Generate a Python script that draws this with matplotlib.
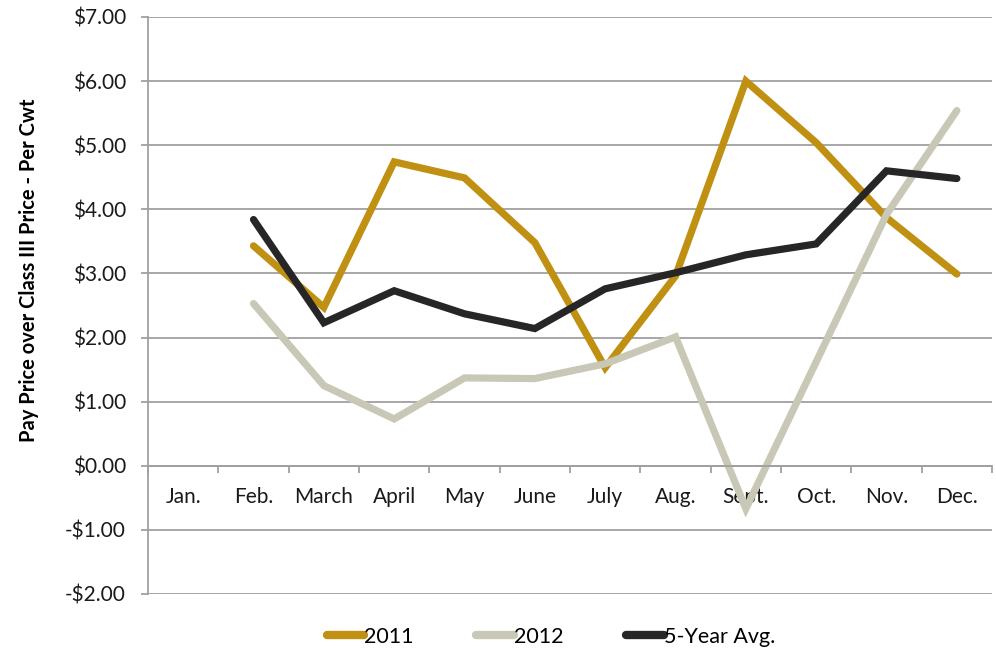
import matplotlib
matplotlib.use('Agg')
import matplotlib.pyplot as plt
from matplotlib.ticker import FuncFormatter, FixedLocator

plt.rcParams['font.family'] = ['Lato', 'DejaVu Sans']

months = ['Jan.', 'Feb.', 'March', 'April', 'May', 'June', 'July',
          'Aug.', 'Sept.', 'Oct.', 'Nov.', 'Dec.']
# Jan. has no data
y2011 = [None, 3.43, 2.47, 4.74, 4.49, 3.48, 1.53, 2.96, 6.00, 5.04, 3.87, 2.99]
y2012 = [None, 2.53, 1.25, 0.73, 1.37, 1.36, 1.59, 2.01, -0.67, 1.62, 3.92, 5.54]
y5yr = [None, 3.84, 2.23, 2.73, 2.37, 2.14, 2.76, 3.01, 3.29, 3.46, 4.60, 4.48]

series = [('2011', y2011, '#BF9012'),
          ('2012', y2012, '#C9C8B6'),
          ('5-Year Avg.', y5yr, '#262626')]

fig = plt.figure(figsize=(9.96, 6.53), dpi=100)
ax = fig.add_axes([0.1486, 0.0904, 0.8474, 0.8836])

x = list(range(len(months)))
for name, vals, col in series:
    xs = [i for i, v in zip(x, vals) if v is not None]
    ys = [v for v in vals if v is not None]
    ax.plot(xs, ys, color=col, lw=5.2, label=name,
            solid_capstyle='round', solid_joinstyle='miter')

ax.set_xlim(-0.5, 11.5)
ax.set_ylim(-2, 7)
ax.set_yticks(range(-2, 8))
ax.yaxis.set_major_formatter(FuncFormatter(
    lambda v, p: f'${v:.2f}' if v >= 0 else f'-${-v:.2f}'))
ax.grid(axis='y', color='#A0A0A0', lw=1.3)
ax.set_axisbelow(True)

# category axis sits on the zero line
ax.spines['bottom'].set_position(('data', 0))
ax.spines['bottom'].set_color('#A0A0A0')
ax.spines['bottom'].set_linewidth(1.3)
ax.spines['left'].set_color('#A0A0A0')
ax.spines['left'].set_linewidth(1.3)
ax.spines['top'].set_visible(False)
ax.spines['right'].set_visible(False)

ax.set_xticks(x)
ax.set_xticklabels(months)
ax.xaxis.set_minor_locator(FixedLocator([i - 0.5 for i in range(13)]))
ax.tick_params(axis='x', which='major', length=0, pad=15, labelsize=15,
               labelcolor='#1a1a1a')
ax.tick_params(axis='x', which='minor', length=5, width=1.3, color='#A0A0A0')
ax.tick_params(axis='y', length=5, width=1.3, color='#A0A0A0', labelsize=15,
               labelcolor='#1a1a1a', pad=11)

ax.set_ylabel('Pay Price over Class III Price - Per Cwt', fontsize=14.5,
              fontweight='bold')
ax.yaxis.set_label_coords(-0.129, 0.5615)

leg = ax.legend(loc='center', bbox_to_anchor=(0.553, 0.0245),
                bbox_transform=fig.transFigure, ncol=3, frameon=False,
                fontsize=15.5, handlelength=1.75, handletextpad=0.0,
                columnspacing=2.9)
for h in leg.get_lines():
    h.set_linewidth(6)

fig.savefig('out.png', dpi=100)
